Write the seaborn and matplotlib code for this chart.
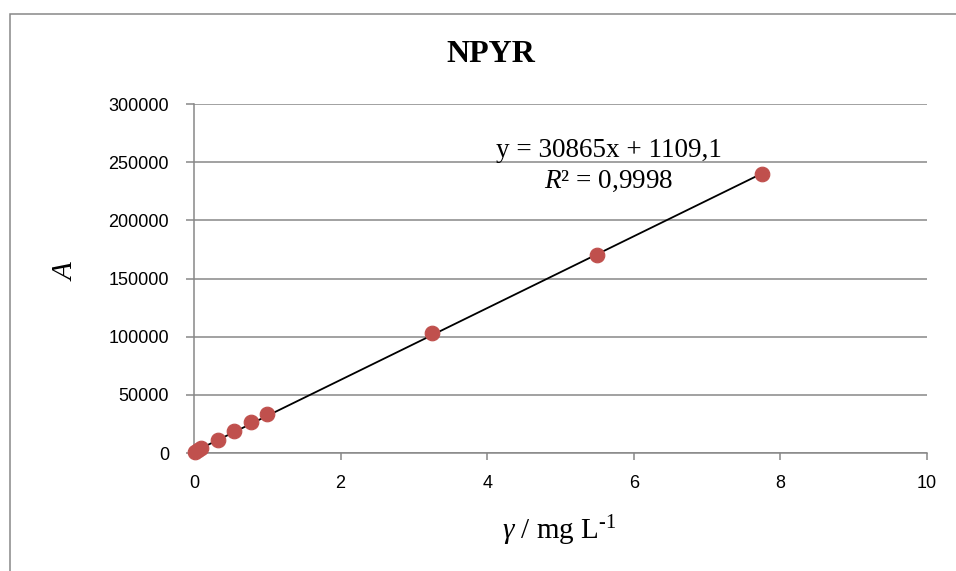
import numpy as np
import matplotlib.pyplot as plt
import matplotlib.patches as patches
import pandas as pd
import seaborn as sns

# data
conc = [0.01, 0.05, 0.1, 0.325, 0.55, 0.775, 1.0, 3.25, 5.5, 7.75]
area = [600, 2300, 3900, 11500, 19000, 26500, 33500, 103500, 170000, 240000]
slope = 30865
intercept = 1109.1
r2_text = "0,9998"
x_ticks = [0, 2, 4, 6, 8, 10]
y_ticks = [0, 50000, 100000, 150000, 200000, 250000, 300000]

df = pd.DataFrame({"conc": conc, "area": area})
fit = pd.DataFrame({"conc": [0, max(conc)]})
fit["area"] = slope * fit["conc"] + intercept

sns.set_style("white")
plt.rcParams["font.family"] = ["Liberation Sans", "DejaVu Sans"]
plt.rcParams["text.color"] = "black"
plt.rcParams["mathtext.fontset"] = "custom"
plt.rcParams["mathtext.rm"] = "Liberation Serif"
plt.rcParams["mathtext.it"] = "Liberation Serif:italic"

grey = "#878787"
fig = plt.figure(figsize=(9.56, 5.71), dpi=100)
ax = fig.add_axes([194 / 956, 1 - 453 / 571, 733 / 956, 349 / 571])

sns.lineplot(data=fit, x="conc", y="area", color="black", lw=1.3, ax=ax, zorder=3)
sns.scatterplot(data=df, x="conc", y="area", color="#C0504D", s=110,
                edgecolor="#C0504D", ax=ax, zorder=4, clip_on=False)

ax.set_xlim(0, 10)
ax.set_ylim(0, 300000)
ax.set_xticks(x_ticks)
ax.set_yticks(y_ticks)
ax.set_xticklabels([str(v) for v in x_ticks], fontsize=13, color="black")
ax.set_yticklabels([str(v) for v in y_ticks], fontsize=13, color="black")
ax.yaxis.grid(True, color=grey, lw=1.1)
ax.set_axisbelow(True)
for s in ["top", "right"]:
    ax.spines[s].set_visible(False)
for s in ["left", "bottom"]:
    ax.spines[s].set_color(grey)
    ax.spines[s].set_linewidth(1.1)
ax.tick_params(axis="y", direction="out", length=6, color=grey, width=1.1, pad=12, left=True)
ax.tick_params(axis="x", direction="out", length=5, color=grey, width=1.1, pad=11, bottom=True)
ax.set_xlabel("")
ax.set_ylabel("")

serif = ["Liberation Serif", "DejaVu Serif"]
fig.text(491 / 956, 1 - 55 / 571, "NPYR", family=serif, fontweight="bold",
         fontsize=23, ha="center", va="center")
fig.text(65 / 956, 1 - 270 / 571, "$A$", family=serif, fontsize=21,
         rotation=90, ha="center", va="center")
fig.text(559 / 956, 1 - 531 / 571, r"$\gamma$ / mg L$^{\text{-1}}$", family=serif,
         fontsize=21, ha="center", va="center")
ax.text(0.566, 0.868, f"y = {slope}x + {str(intercept).replace('.', ',')}",
        transform=ax.transAxes, family=serif, fontsize=19.5, ha="center", va="center")
ax.text(0.565, 0.779, f"$R$² = {r2_text}", transform=ax.transAxes, family=serif,
        fontsize=19.5, ha="center", va="center")

fig.patches.append(patches.Rectangle((10 / 956, -0.05), 1.0, 1.05 - 14 / 571,
                                     transform=fig.transFigure, fill=False,
                                     edgecolor=grey, lw=1.1))

fig.savefig("out.png", dpi=100)
